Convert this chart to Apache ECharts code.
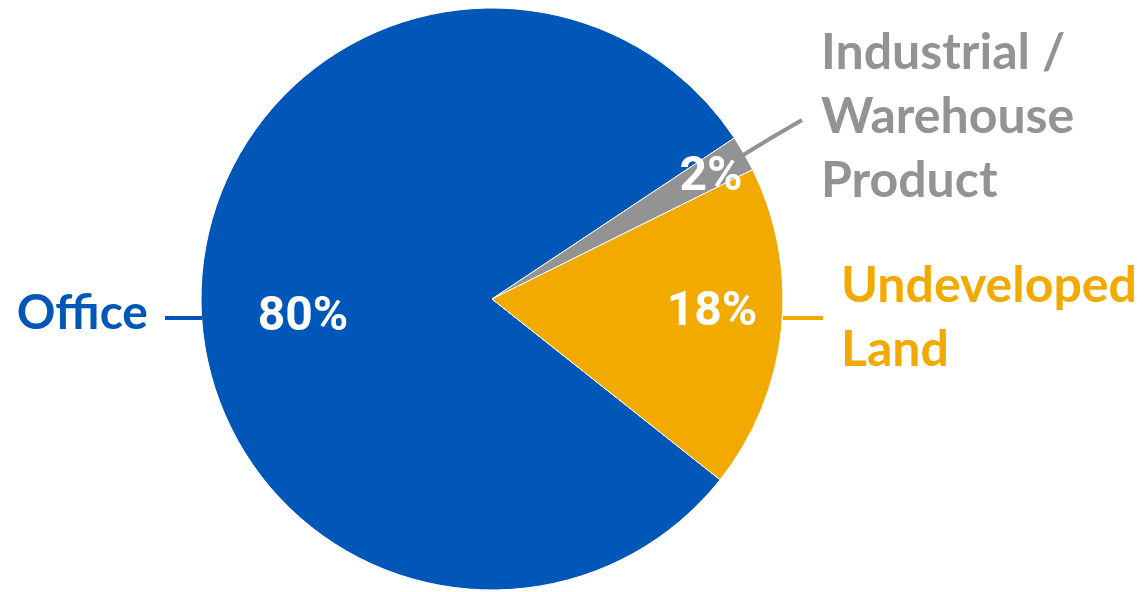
<!DOCTYPE html>
<html>
<head>
<meta charset="utf-8">
<script src="https://cdn.jsdelivr.net/npm/echarts@6/dist/echarts.min.js"></script>
<style>
html,body{margin:0;padding:0;background:#fff;}
#chart{width:1144px;height:592px;}
</style>
</head>
<body>
<div id="chart"></div>
<script>
// ---- data ----
var categories = ['Office', 'Industrial / Warehouse Product', 'Undeveloped Land'];
var categoryLabels = ['Office', 'Industrial /\nWarehouse\nProduct', 'Undeveloped\nLand'];
var values = [80, 2, 18];
var colors = ['#0057B8', '#939393', '#F2A900'];

// ---- layout (styling only) ----
var insidePos = [[303, 318], [711, 178], [712, 313]];
var outsideLayout = [
  {x: 148, y: 314, align: 'right', pts: [[202, 318], [183, 318], [165, 318]]},
  {x: 821, y: 117, align: 'left', pts: [[740, 157], [771, 138], [802, 120]]},
  {x: 841, y: 318, align: 'left', pts: [[783, 318], [803, 318], [823, 318]]}
];

var chart = echarts.init(document.getElementById('chart'));

var innerData = categories.map(function (c, i) {
  return {name: c, value: values[i], itemStyle: {color: colors[i]}};
});
var outerData = categories.map(function (c, i) {
  return {
    name: c, value: values[i],
    itemStyle: {color: 'rgba(0,0,0,0)'},
    label: {color: colors[i], formatter: categoryLabels[i], fontSize: i === 0 ? 48 : 50},
    labelLine: {lineStyle: {color: colors[i]}}
  };
});

var common = {
  type: 'pie',
  center: [492, 299],
  radius: 291,
  startAngle: 321.6,
  clockwise: true,
  animation: false
};

chart.setOption({
  backgroundColor: '#ffffff',
  series: [
    Object.assign({}, common, {
      data: innerData,
      itemStyle: {borderColor: '#ffffff', borderWidth: 1},
      label: {
        show: true,
        position: 'inside',
        formatter: '{d}%',
        color: '#ffffff',
        fontFamily: 'Roboto, sans-serif',
        fontWeight: 'bold',
        fontSize: 48
      },
      labelLine: {show: false},
      labelLayout: function (p) {
        var pos = insidePos[p.dataIndex];
        return {x: pos[0], y: pos[1], align: 'center', verticalAlign: 'middle'};
      },
      emphasis: {disabled: true}
    }),
    Object.assign({}, common, {
      data: outerData,
      silent: true,
      z: 3,
      itemStyle: {borderWidth: 0},
      label: {
        show: true,
        position: 'outside',
        fontFamily: 'Lato, "Open Sans", sans-serif',
        fontWeight: 'bold',
        fontSize: 50,
        lineHeight: 64
      },
      labelLine: {show: true, lineStyle: {width: 4}},
      labelLayout: function (p) {
        var l = outsideLayout[p.dataIndex];
        return {x: l.x, y: l.y, align: l.align, verticalAlign: 'middle', labelLinePoints: l.pts};
      },
      emphasis: {disabled: true}
    })
  ]
});
</script>
</body>
</html>
